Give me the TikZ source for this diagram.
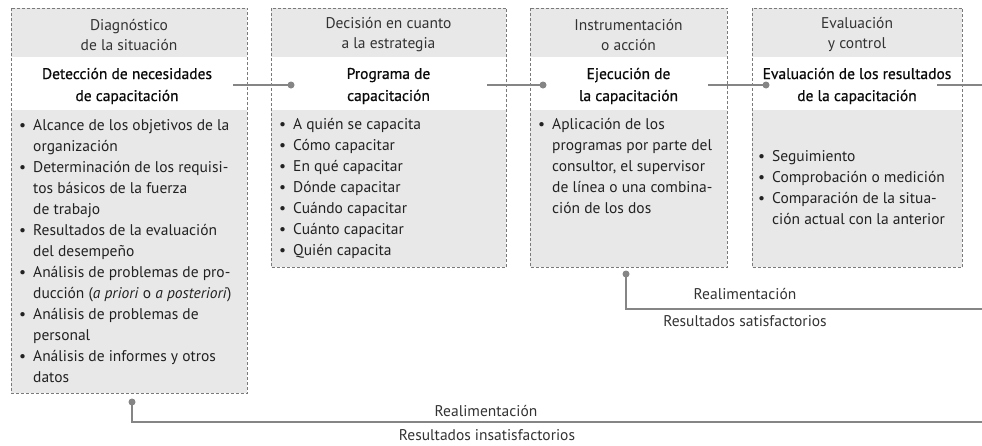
\documentclass[tikz,border=0pt]{standalone}
\usepackage{fontspec}
\setmainfont{PT Sans}
\definecolor{boxgray}{HTML}{E8E8E8}
\definecolor{linegray}{HTML}{858585}
\definecolor{bordergray}{HTML}{7A7A7A}
\definecolor{hdtext}{HTML}{333333}
\definecolor{lstext}{HTML}{222222}
\definecolor{tttext}{HTML}{0A0A0A}
\newcommand\bul{\makebox[16pt][l]{\hspace{2pt}\textbullet}}
\begin{document}
\begin{tikzpicture}[x=1pt,y=-1pt,
 boxbg/.style={fill=boxgray, draw=none, inner sep=0, anchor=north west},
 band/.style={fill=white, draw=none, inner sep=0, anchor=north west},
 border/.style={draw=bordergray, line width=0.9pt, dash pattern=on 3pt off 2pt},
 hdr/.style={align=center, text=hdtext, font=\fontsize{15.5}{20}\selectfont, inner sep=0},
 ttl/.style={align=center, text=tttext, font=\fontsize{15.5}{22}\selectfont\addfontfeature{FakeBold=0.6}, inner sep=0},
 lst/.style={anchor=north west, text=lstext, font=\fontsize{15.5}{21}\selectfont, inner sep=0},
 conn/.style={draw=linegray, line width=1.6pt},
 dot/.style={circle, fill=linegray, inner sep=0, minimum size=7pt},
 lbl/.style={text=hdtext, font=\fontsize{15.5}{20}\selectfont, inner sep=0}
]
\useasboundingbox[fill=white] (0,0) rectangle (982,445);

% boxes
\node[boxbg, minimum width=236pt, minimum height=385pt] (b1) at (11,8) {};
\node[band, minimum width=236pt, minimum height=53pt] (w1) at (11,57) {};
\draw[border] (b1.north west) rectangle (b1.south east);

\node[boxbg, minimum width=235pt, minimum height=259pt] (b2) at (271,8) {};
\node[band, minimum width=235pt, minimum height=53pt] (w2) at (271,57) {};
\draw[border] (b2.north west) rectangle (b2.south east);

\node[boxbg, minimum width=197pt, minimum height=259pt] (b3) at (530,8) {};
\node[band, minimum width=197pt, minimum height=53pt] (w3) at (530,57) {};
\draw[border] (b3.north west) rectangle (b3.south east);

\node[boxbg, minimum width=210pt, minimum height=259pt] (b4) at (752,8) {};
\node[band, minimum width=210pt, minimum height=53pt] (w4) at (752,57) {};
\draw[border] (b4.north west) rectangle (b4.south east);

% headers
\node[hdr] (h1) at (129,35) {Diagnóstico\\de la situación};
\node[hdr] (h2) at (388.5,35) {Decisión en cuanto\\a la estrategia};
\node[hdr] (h3) at (628.5,35) {Instrumentación\\o acción};
\node[hdr] (h4) at (857,35) {Evaluación\\y control};

% titles
\node[ttl] (t1) at (127,86) {Detección de necesidades\\de capacitación};
\node[ttl] (t2) at (388.5,86) {Programa de\\capacitación};
\node[ttl] (t3) at (628.5,86) {Ejecución de\\la capacitación};
\node[ttl] (t4) at (857,86) {Evaluación de los resultados\\de la capacitación};

% lists
\node[lst] (l1) at (17,116) {\begin{tabular}{@{}l@{}l@{}}
\bul & Alcance de los objetivos de la\\
 & organización\\
\bul & Determinación de los requisi-\\
 & tos básicos de la fuerza\\
 & de trabajo\\
\bul & Resultados de la evaluación\\
 & del desempeño\\
\bul & Análisis de problemas de pro-\\
 & ducción (\textit{a priori} o \textit{a posteriori})\\
\bul & Análisis de problemas de\\
 & personal\\
\bul & Análisis de informes y otros\\
 & datos
\end{tabular}};

\node[lst] (l2) at (277,115) {\begin{tabular}{@{}l@{}l@{}}
\bul & A quién se capacita\\
\bul & Cómo capacitar\\
\bul & En qué capacitar\\
\bul & Dónde capacitar\\
\bul & Cuándo capacitar\\
\bul & Cuánto capacitar\\
\bul & Quién capacita
\end{tabular}};

\node[lst] (l3) at (536,115) {\begin{tabular}{@{}l@{}l@{}}
\bul & Aplicación de los\\
 & programas por parte del\\
 & consultor, el supervisor\\
 & de línea o una combina-\\
 & ción de los dos
\end{tabular}};

\node[lst] (l4) at (756,147) {\begin{tabular}{@{}l@{}l@{}}
\bul & Seguimiento\\
\bul & Comprobación o medición\\
\bul & Comparación de la situa-\\
 & ción actual con la anterior
\end{tabular}};

% connectors
\coordinate (s1) at (233,85);
\coordinate (s2) at (487,85);
\coordinate (s3) at (708,85);
\coordinate (s4) at (937,85);
\coordinate (e4) at (982,85);
\node[dot] (d2) at (291,85) {};
\node[dot] (d3) at (543,85) {};
\node[dot] (d4) at (766,85) {};
\draw[conn] (s1) -- (d2.center);
\draw[conn] (s2) -- (d3.center);
\draw[conn] (s3) -- (d4.center);
\draw[conn] (s4) -- (e4);

% feedback satisfactory
\node[dot] (f1) at (626,274) {};
\coordinate (c1) at (626,309);
\coordinate (e1) at (982,309);
\draw[conn] (f1.center) -- (c1) -- (e1);
\node[lbl] (r1) at (745,294) {Realimentación};
\node[lbl] (q1) at (745,321) {Resultados satisfactorios};

% feedback unsatisfactory
\node[dot] (f2) at (132,402) {};
\coordinate (c2) at (132,422);
\coordinate (e2) at (982,422);
\draw[conn] (f2.center) -- (c2) -- (e2);
\node[lbl] (r2) at (486,411) {Realimentación};
\node[lbl] (q2) at (487,435) {Resultados insatisfactorios};
\end{tikzpicture}
\end{document}
